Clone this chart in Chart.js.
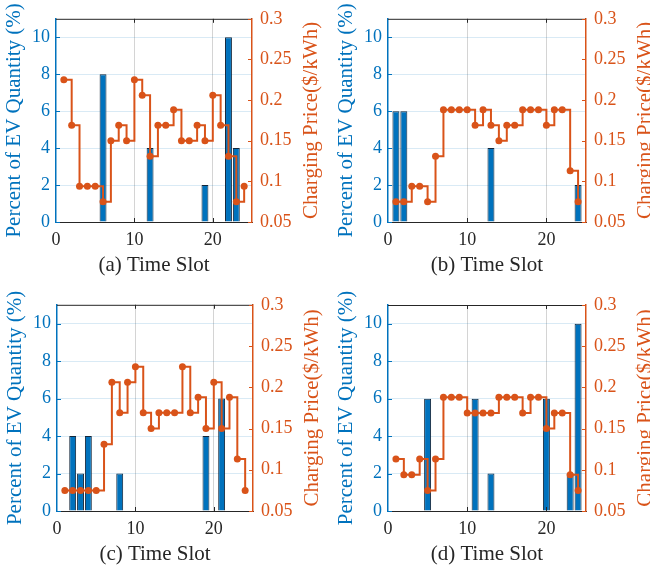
<!DOCTYPE html>
<html>
<head>
<meta charset="utf-8">
<script src="https://cdn.jsdelivr.net/npm/chart.js@4.4.1/dist/chart.umd.min.js"></script>
<style>
  html, body { margin: 0; padding: 0; background: #fff; overflow: hidden; }
  #wrap { position: relative; width: 650px; height: 572px; overflow: hidden; background: #fff; }
  .panel { position: absolute; width: 335px; height: 286px; }
</style>
</head>
<body>
<div id="wrap">
  <div class="panel" style="left:0;top:0"><canvas id="chartA" width="335" height="286"></canvas></div>
  <div class="panel" style="left:325px;top:0"><canvas id="chartB" width="335" height="286"></canvas></div>
  <div class="panel" style="left:0;top:286px"><canvas id="chartC" width="335" height="286"></canvas></div>
  <div class="panel" style="left:325px;top:286px"><canvas id="chartD" width="335" height="286"></canvas></div>
</div>
<script>
const timeSlots = [1, 2, 3, 4, 5, 6, 7, 8, 9, 10, 11, 12, 13, 14, 15, 16, 17, 18, 19, 20, 21, 22, 23, 24];

// percent of EV quantity per slot
const evA = [0, 0, 0, 0, 0, 8, 0, 0, 0, 0, 0, 4, 0, 0, 0, 0, 0, 0, 2, 0, 0, 10, 4, 0];
const evB = [6, 6, 0, 0, 0, 0, 0, 0, 0, 0, 0, 0, 4, 0, 0, 0, 0, 0, 0, 0, 0, 0, 0, 2];
const evC = [0, 4, 2, 4, 0, 0, 0, 2, 0, 0, 0, 0, 0, 0, 0, 0, 0, 0, 4, 0, 6, 0, 0, 0];
const evD = [0, 0, 0, 0, 6, 0, 0, 0, 0, 0, 6, 0, 2, 0, 0, 0, 0, 0, 0, 6, 0, 0, 2, 10];

// charging price ($/kWh) per slot
const priceA = [0.225, 0.169, 0.094, 0.094, 0.094, 0.075, 0.15, 0.169, 0.15, 0.225, 0.206, 0.131,
                0.169, 0.169, 0.188, 0.15, 0.15, 0.169, 0.15, 0.206, 0.169, 0.131, 0.075, 0.094];
const priceB = [0.075, 0.075, 0.094, 0.094, 0.075, 0.131, 0.188, 0.188, 0.188, 0.188, 0.169, 0.188,
                0.169, 0.15, 0.169, 0.169, 0.188, 0.188, 0.188, 0.169, 0.188, 0.188, 0.113, 0.075];
const priceC = [0.075, 0.075, 0.075, 0.075, 0.075, 0.131, 0.206, 0.169, 0.206, 0.225, 0.169, 0.15,
                0.169, 0.169, 0.169, 0.225, 0.169, 0.188, 0.15, 0.206, 0.15, 0.188, 0.113, 0.075];
const priceD = [0.113, 0.094, 0.094, 0.113, 0.075, 0.113, 0.188, 0.188, 0.188, 0.169, 0.169, 0.169,
                0.169, 0.188, 0.188, 0.188, 0.169, 0.188, 0.188, 0.15, 0.169, 0.169, 0.094, 0.075];

const xTicks = [0, 10, 20];
const evTicks = [0, 2, 4, 6, 8, 10];
const priceTicks = [0.05, 0.1, 0.15, 0.2, 0.25, 0.3];
const panelTitles = ['(a) Time Slot', '(b) Time Slot', '(c) Time Slot', '(d) Time Slot'];
const evTitle = 'Percent of EV Quantity (%)';
const priceTitle = 'Charging Price($/kWh)';

const BLUE = '#0072BD';
const ORANGE = '#D95319';
const DARK = '#262626';
const FONT = "'Liberation Serif', 'Times New Roman', serif";

// plot box of each panel inside its 335x286 canvas
const boxes = [
  { l: 56, r: 252, t: 15, b: 222 },
  { l: 63, r: 261, t: 15, b: 222 },
  { l: 57, r: 253, t: 18, b: 225 },
  { l: 63, r: 261, t: 19, b: 225 }
];
const CW = 335, CH = 286, LEFT_W = 54, RIGHT_W = 72, BOTTOM_H = 56;

// box outline, inward ticks and the right label (read bottom to top like MATLAB)
const framePlugin = {
  id: 'frame',
  afterDatasetsDraw(chart) {
    const { ctx, chartArea: a, scales } = chart;
    ctx.save();
    ctx.lineWidth = 1;
    ctx.strokeStyle = DARK;
    ctx.beginPath();
    ctx.moveTo(a.left, a.top + 0.5);
    ctx.lineTo(a.right, a.top + 0.5);
    ctx.moveTo(a.left, a.bottom + 0.5);
    ctx.lineTo(a.right, a.bottom + 0.5);
    scales.x.ticks.forEach(t => {
      if (t.value === 0) return;
      const px = Math.round(scales.x.getPixelForValue(t.value)) + 0.5;
      ctx.moveTo(px, a.bottom);
      ctx.lineTo(px, a.bottom - 4);
      ctx.moveTo(px, a.top);
      ctx.lineTo(px, a.top + 4);
    });
    ctx.stroke();

    ctx.strokeStyle = BLUE;
    ctx.beginPath();
    scales.y.ticks.forEach(t => {
      const py = Math.round(scales.y.getPixelForValue(t.value)) + 0.5;
      ctx.moveTo(a.left, py);
      ctx.lineTo(a.left + 4, py);
    });
    ctx.stroke();

    ctx.strokeStyle = ORANGE;
    ctx.beginPath();
    scales.y1.ticks.forEach(t => {
      const py = Math.round(scales.y1.getPixelForValue(t.value)) + 0.5;
      ctx.moveTo(a.right, py);
      ctx.lineTo(a.right - 4, py);
    });
    ctx.stroke();

    ctx.translate(scales.y1.right - 13, (a.top + a.bottom) / 2);
    ctx.rotate(-Math.PI / 2);
    ctx.fillStyle = ORANGE;
    ctx.font = "21px " + FONT;
    ctx.textAlign = 'center';
    ctx.textBaseline = 'middle';
    ctx.fillText(priceTitle, 0, 0);
    ctx.restore();
  }
};

function makeChart(canvasId, ev, price, title, box) {
  const ctx = document.getElementById(canvasId).getContext('2d');
  return new Chart(ctx, {
    type: 'bar',
    data: {
      datasets: [{
        type: 'line',
        label: 'Charging Price',
        data: timeSlots.map((s, i) => ({ x: s, y: price[i] })),
        yAxisID: 'y1',
        stepped: true,
        borderColor: ORANGE,
        borderWidth: 2,
        pointRadius: 3.5,
        pointBackgroundColor: ORANGE,
        pointBorderWidth: 0,
        order: 0
      }, {
        type: 'bar',
        label: 'EV Quantity',
        data: timeSlots.map((s, i) => ({ x: s, y: ev[i] > 0 ? ev[i] : null })),
        yAxisID: 'y',
        backgroundColor: BLUE,
        borderColor: '#13263a',
        borderWidth: 1,
        barPercentage: 1,
        categoryPercentage: 0.88,
        order: 1
      }]
    },
    options: {
      responsive: false,
      devicePixelRatio: 1,
      animation: false,
      layout: {
        padding: {
          left: box.l - LEFT_W,
          right: CW - box.r - RIGHT_W,
          top: box.t,
          bottom: CH - box.b - BOTTOM_H
        }
      },
      plugins: { legend: { display: false }, tooltip: { enabled: false } },
      scales: {
        x: {
          type: 'linear',
          min: 0,
          max: 25,
          offset: false,
          afterBuildTicks: s => { s.ticks = xTicks.map(v => ({ value: v })); },
          afterFit: s => { s.height = BOTTOM_H; },
          grid: {
            offset: false,
            drawTicks: false,
            color: c => (c.tick && c.tick.value === 0) ? 'rgba(0,0,0,0)' : 'rgba(38,38,38,0.2)'
          },
          border: { color: DARK, width: 1 },
          ticks: { color: DARK, padding: 7, font: { family: FONT, size: 18 }, callback: v => String(v) },
          title: { display: true, text: title, color: DARK, padding: 0, font: { family: FONT, size: 21 } }
        },
        y: {
          type: 'linear',
          position: 'left',
          min: 0,
          max: 11,
          afterBuildTicks: s => { s.ticks = evTicks.map(v => ({ value: v })); },
          afterFit: s => { s.width = LEFT_W; },
          grid: {
            drawTicks: false,
            color: c => (c.tick && c.tick.value === 0) ? 'rgba(0,0,0,0)' : 'rgba(0,114,189,0.15)'
          },
          border: { color: BLUE, width: 1.5 },
          ticks: { color: BLUE, padding: 6, font: { family: FONT, size: 18 }, callback: v => String(v) },
          title: { display: true, text: evTitle, color: BLUE, padding: 0, font: { family: FONT, size: 21 } }
        },
        y1: {
          type: 'linear',
          position: 'right',
          min: 0.05,
          max: 0.3,
          afterBuildTicks: s => { s.ticks = priceTicks.map(v => ({ value: v })); },
          afterFit: s => { s.width = RIGHT_W; },
          grid: { display: false, drawTicks: false },
          border: { color: ORANGE, width: 1.5 },
          ticks: { color: ORANGE, padding: 8, font: { family: FONT, size: 18 }, callback: v => String(v) },
          title: { display: false }
        }
      }
    },
    plugins: [framePlugin]
  });
}

makeChart('chartA', evA, priceA, panelTitles[0], boxes[0]);
makeChart('chartB', evB, priceB, panelTitles[1], boxes[1]);
makeChart('chartC', evC, priceC, panelTitles[2], boxes[2]);
makeChart('chartD', evD, priceD, panelTitles[3], boxes[3]);
</script>
</body>
</html>
